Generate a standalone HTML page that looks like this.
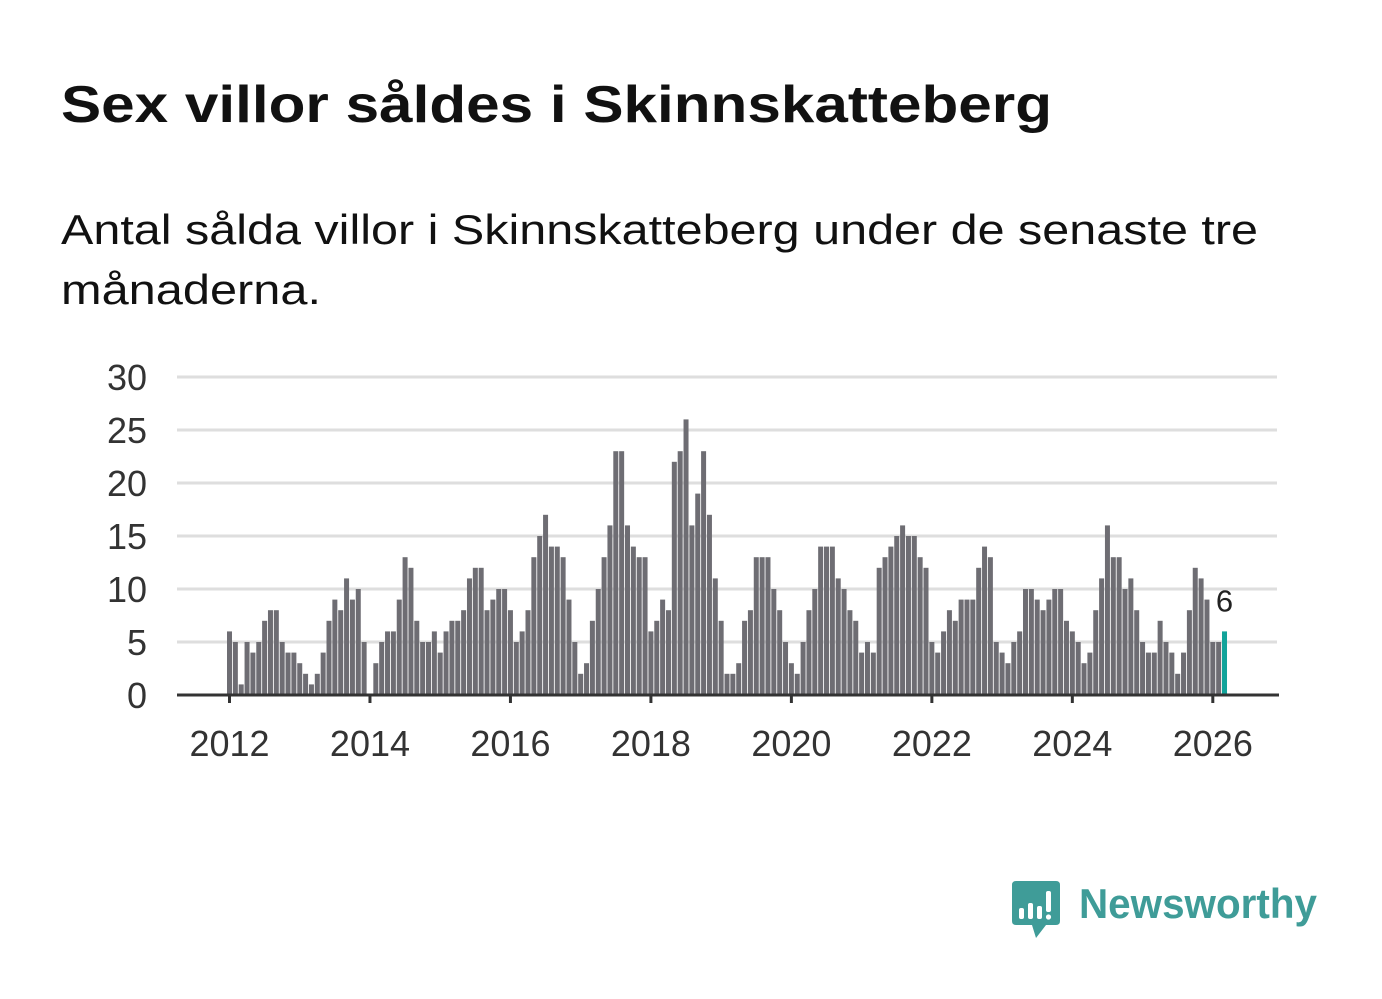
<!DOCTYPE html>
<html><head><meta charset="utf-8"><style>
html,body{margin:0;padding:0;background:#fff;}
svg{display:block;font-family:"Liberation Sans",sans-serif;}
</style></head><body>
<svg id="chart" width="1382" height="999" viewBox="0 0 1382 999" xmlns="http://www.w3.org/2000/svg">
<text x="61" y="122" font-size="52" font-weight="bold" fill="#111" textLength="991" lengthAdjust="spacingAndGlyphs">Sex villor såldes i Skinnskatteberg</text>
<text x="61" y="244" font-size="42" fill="#111" textLength="1197" lengthAdjust="spacingAndGlyphs">Antal sålda villor i Skinnskatteberg under de senaste tre</text>
<text x="61" y="304" font-size="42" fill="#111" textLength="260" lengthAdjust="spacingAndGlyphs">månaderna.</text>
<g id="grid"></g>
<g id="yticks"></g>
<g id="bars"></g>
<g id="xaxis"></g>
<g>
<path d="M1016 881 H1056 Q1060 881 1060 885 V921 Q1060 925 1056 925 H1046 L1036 938 L1032 925 H1016 Q1012 925 1012 921 V885 Q1012 881 1016 881 Z" fill="#3f9c98"/>
<rect x="1019" y="908" width="5" height="11" rx="2" fill="#fff"/>
<rect x="1028" y="903" width="5" height="16" rx="2" fill="#fff"/>
<rect x="1037" y="906" width="5" height="13" rx="2" fill="#fff"/>
<rect x="1046" y="891" width="5" height="21" rx="2" fill="#fff"/>
<circle cx="1048.5" cy="917" r="2.6" fill="#fff"/>
<text x="1079" y="918" font-size="42" font-weight="600" fill="#3f9c98" textLength="238" lengthAdjust="spacingAndGlyphs">Newsworthy</text>
</g>
</svg>
<script>
const values = [
6,5,1,5,4,5,7,8,8,5,4,4,
3,2,1,2,4,7,9,8,11,9,10,5,
0,3,5,6,6,9,13,12,7,5,5,6,
4,6,7,7,8,11,12,12,8,9,10,10,
8,5,6,8,13,15,17,14,14,13,9,5,
2,3,7,10,13,16,23,23,16,14,13,13,
6,7,9,8,22,23,26,16,19,23,17,11,
7,2,2,3,7,8,13,13,13,10,8,5,
3,2,5,8,10,14,14,14,11,10,8,7,
4,5,4,12,13,14,15,16,15,15,13,12,
5,4,6,8,7,9,9,9,12,14,13,5,
4,3,5,6,10,10,9,8,9,10,10,7,
6,5,3,4,8,11,16,13,13,10,11,8,
5,4,4,7,5,4,2,4,8,12,11,9,
5,5,6];
const startYear = 2012;
const yTicks = [0,5,10,15,20,25,30];
const xTickYears = [2012,2014,2016,2018,2020,2022,2024,2026];

const NS='http://www.w3.org/2000/svg';
const x0=229.5, monthW=5.853, yBase=695, yTop=377, yMax=30;
const X = m => x0 + m*monthW;
const Y = v => yBase - (v/yMax)*(yBase-yTop);
function mk(tag, attrs, parent){const e=document.createElementNS(NS,tag);for(const k in attrs)e.setAttribute(k,attrs[k]);parent.appendChild(e);return e;}
const grid=document.getElementById('grid'), yt=document.getElementById('yticks'), bars=document.getElementById('bars'), xa=document.getElementById('xaxis');
yTicks.forEach(t=>{
  if(t>0){const l=mk('line',{x1:177,x2:1277,y1:Y(t),y2:Y(t),stroke:'#dedede','stroke-width':3},grid);
  
  }
  const tx=mk('text',{x:147,y:Y(t)+13,'font-size':36,fill:'#333','text-anchor':'end'},yt);
  
  
  tx.textContent=t;
});
values.forEach((v,i)=>{
  const last=i===values.length-1;
  const r=mk('rect',{x:X(i)-2.5,y:Y(v),width:5,height:yBase-Y(v),fill:last?'#11a39a':'#6e6d73'},bars);
  
  
});
const li=values.length-1;
const lab=mk('text',{x:X(li),y:Y(values[li])-20,'font-size':31,fill:'#222','text-anchor':'middle'},bars);


lab.textContent=values[li];
const ax=mk('line',{x1:177,x2:1279,y1:yBase,y2:yBase,stroke:'#333','stroke-width':3},xa);


xTickYears.forEach(y=>{
  const m=(y-startYear)*12, x=X(m);
  const tk=mk('line',{x1:x,x2:x,y1:yBase,y2:yBase+8,stroke:'#333','stroke-width':3},xa);
  
  
  const tx=mk('text',{x:x,y:756,'font-size':36,fill:'#333','text-anchor':'middle'},xa);
  
  
  tx.textContent=y;
});
</script>
</body></html>
